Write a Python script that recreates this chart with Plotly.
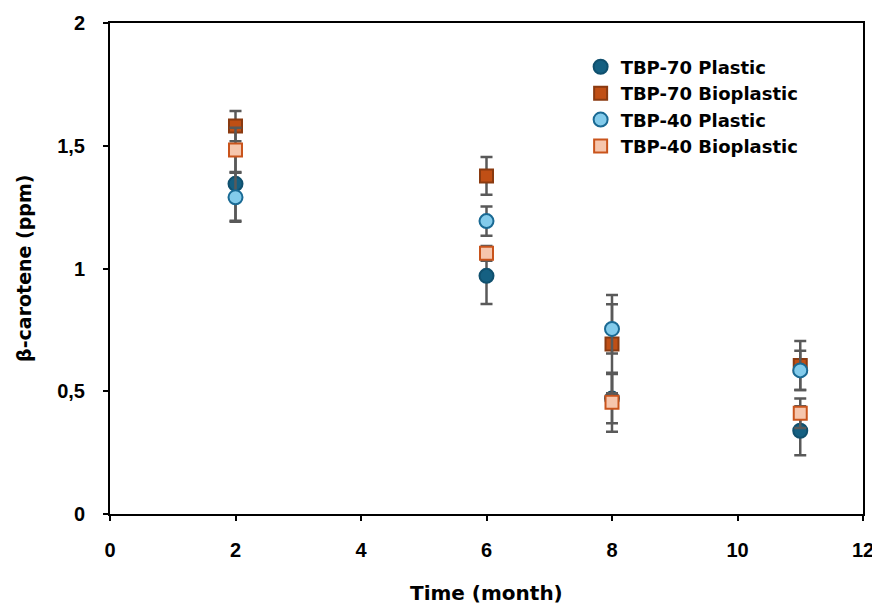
import plotly.graph_objects as go

months = [2, 6, 8, 11]
series_names = ["TBP-70 Plastic", "TBP-70 Bioplastic", "TBP-40 Plastic", "TBP-40 Bioplastic"]
tbp70_plastic = [1.345, 0.97, 0.47, 0.339]
tbp70_plastic_err = [0.15, 0.115, 0.10, 0.10]
tbp70_bioplastic = [1.58, 1.377, 0.692, 0.605]
tbp70_bioplastic_err = [0.062, 0.077, 0.20, 0.10]
tbp40_plastic = [1.29, 1.193, 0.754, 0.585]
tbp40_plastic_err = [0.10, 0.06, 0.10, 0.08]
tbp40_bioplastic = [1.483, 1.062, 0.455, 0.41]
tbp40_bioplastic_err = [0.09, 0.03, 0.12, 0.06]
x_title = "Time (month)"
y_title = "β-carotene (ppm)"

values = [tbp70_plastic, tbp70_bioplastic, tbp40_plastic, tbp40_bioplastic]
errors = [tbp70_plastic_err, tbp70_bioplastic_err, tbp40_plastic_err, tbp40_bioplastic_err]
symbols = ["circle", "square", "circle", "square"]
fills = ["#156082", "#C04F15", "#83CBEB", "#F6C6AD"]
outlines = ["#10506E", "#8A3A10", "#1A6A94", "#C9541C"]

fig = go.Figure()
for name, v, e, sym, fc, lc in zip(series_names, values, errors, symbols, fills, outlines):
    fig.add_trace(go.Scatter(
        x=months, y=v, mode="markers", name=name, legendgroup=name,
        marker=dict(symbol=sym, size=14 if sym == "circle" else 13, color=fc,
                    line=dict(color=lc, width=2)),
        error_y=dict(type="data", array=e, visible=True, color="#595959",
                     thickness=2.5, width=6),
    ))

tick_font = "Liberation Sans, Arial, sans-serif"
text_font = "DejaVu Sans, sans-serif"
fig.update_layout(
    width=872, height=598,
    margin=dict(l=102, r=17, t=15, b=92),
    plot_bgcolor="white", paper_bgcolor="white",
    separators=",.",
    font=dict(family=tick_font, size=20, color="black"),
    showlegend=True,
    legend=dict(x=0.625, y=0.948, xanchor="left", yanchor="top",
                font=dict(family=text_font, size=18, color="black", weight="bold"),
                bgcolor="rgba(0,0,0,0)", tracegroupgap=0, itemwidth=30),
    xaxis=dict(range=[0, 12], tickvals=[0, 2, 4, 6, 8, 10, 12], showgrid=False,
               zeroline=False, showline=True, linecolor="black", linewidth=2,
               mirror=True, ticks="outside", ticklen=5, tickwidth=2, tickcolor="black",
               automargin=False, ticklabelstandoff=12,
               tickfont=dict(family=tick_font, size=20, weight="bold")),
    yaxis=dict(range=[0, 2], tickvals=[0, 0.5, 1, 1.5, 2], showgrid=False,
               zeroline=False, showline=True, linecolor="black", linewidth=2,
               mirror=True, ticks="outside", ticklen=5, tickwidth=2, tickcolor="black",
               automargin=False, ticklabelstandoff=14,
               tickfont=dict(family=tick_font, size=20, weight="bold")),
    annotations=[
        dict(text="<b>" + x_title + "</b>", xref="paper", yref="paper",
             x=0.5, y=-0.161, xanchor="center", yanchor="middle", showarrow=False,
             font=dict(family=text_font, size=20, color="black")),
        dict(text="<b>" + y_title + "</b>", xref="paper", yref="paper",
             x=-0.115, y=0.5, xanchor="center", yanchor="middle", showarrow=False,
             textangle=-90, font=dict(family=text_font, size=19, color="black")),
    ],
)
fig.write_html("out.html")
